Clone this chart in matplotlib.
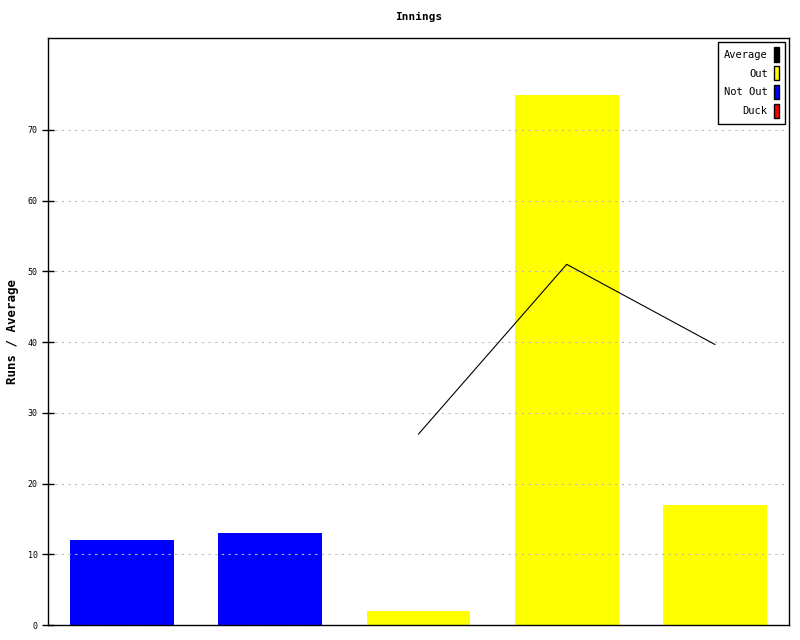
import matplotlib
matplotlib.use("Agg")
import matplotlib.pyplot as plt
from matplotlib.patches import Patch

innings = [1, 2, 3, 4, 5]
runs = [12, 13, 2, 75, 17]
status = ["Not Out", "Not Out", "Out", "Out", "Out"]
avg_x = [3, 4, 5]
avg_vals = [27, 51, 39.67]
yticks = [0, 10, 20, 30, 40, 50, 60, 70]

colors = {"Out": "#ffff00", "Not Out": "#0000ff", "Duck": "#ff0000"}
plt.rcParams['font.family'] = ['DejaVu Sans Mono']

fig = plt.figure(figsize=(8, 6.4), dpi=100)
ax = fig.add_axes([0.06, 0.0234, 0.92625, 0.9172])

xpos = [i - 1 for i in innings]
ax.bar(xpos, runs, width=0.7, color=[colors[s] for s in status], zorder=1)
ax.plot([x - 1 for x in avg_x], avg_vals, color="black", lw=0.8, zorder=3)

ax.set_xlim(-0.5, 4.5)
ax.set_ylim(0, 83)
ax.set_yticks(yticks)
ax.set_yticklabels([str(t) for t in yticks], fontsize=6)
ax.set_xticks([])
ax.yaxis.grid(True, linestyle=(0, (2, 4)), color="#bbbbbb", lw=0.8, zorder=2)
ax.set_axisbelow(False)
ax.tick_params(axis='y', direction='inout', length=8, width=1)
for sp in ax.spines.values():
    sp.set_linewidth(1)

ax.set_title("Innings", fontsize=8, fontweight="bold", pad=13)
ax.set_ylabel("Runs / Average", fontsize=9, fontweight="bold")
ax.yaxis.set_label_coords(-0.039, 0.5)

handles = [Patch(facecolor="black", edgecolor="black"),
           Patch(facecolor=colors["Out"], edgecolor="black"),
           Patch(facecolor=colors["Not Out"], edgecolor="black"),
           Patch(facecolor=colors["Duck"], edgecolor="black")]
labels = ["Average", "Out", "Not Out", "Duck"]
leg = ax.legend(handles, labels, loc="upper right", markerfirst=False,
                fontsize=7.5, handlelength=0.5, handleheight=1.7,
                handletextpad=0.6, labelspacing=0.45, fancybox=False,
                framealpha=1, edgecolor="black", borderpad=0.55,
                bbox_to_anchor=(1.0015, 1.0025))
leg.get_frame().set_linewidth(1)
for t in leg.get_texts():
    t.set_ha("right")

fig.savefig("out.png", dpi=100)
